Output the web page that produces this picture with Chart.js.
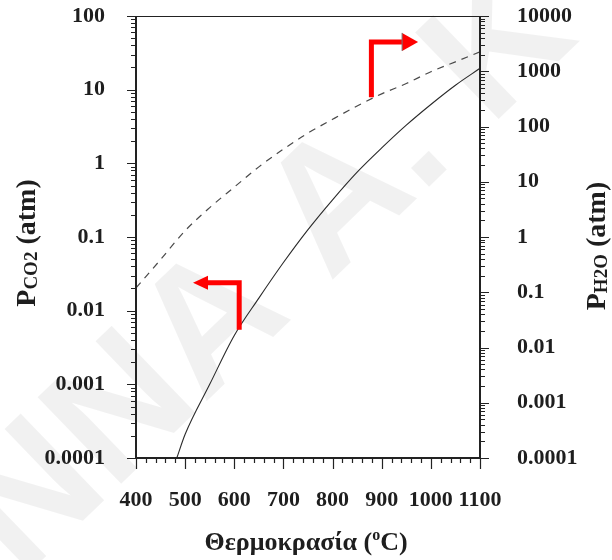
<!DOCTYPE html>
<html>
<head>
<meta charset="utf-8">
<script src="https://cdn.jsdelivr.net/npm/chart.js@4.4.1/dist/chart.umd.min.js"></script>
<style>
  html, body { margin: 0; padding: 0; background: #ffffff; }
  #wrap { width: 612px; height: 560px; position: relative; }
</style>
</head>
<body>
<div id="wrap"><canvas id="c" width="612" height="560"></canvas></div>
<script>
// ---- data ----
const co2Temps = [483, 500, 550, 600, 650, 700, 750, 800, 850, 900, 950, 1000, 1050, 1100];
const co2Pressure = [0.0001, 0.00021, 0.001, 0.0046, 0.0148, 0.045, 0.126, 0.32, 0.76, 1.62, 3.3, 6.3, 11.5, 19.5];

const h2oTemps = [400, 450, 500, 550, 600, 650, 700, 750, 800, 850, 900, 950, 1000, 1050, 1100];
const h2oPressure = [0.12, 0.39, 1.3, 3.4, 8, 18.6, 39, 76, 135, 235, 390, 600, 980, 1480, 2240];

const xTicks = [400, 500, 600, 700, 800, 900, 1000, 1100];
const leftTicks = [0.0001, 0.001, 0.01, 0.1, 1, 10, 100];
const leftTickLabels = ['0.0001', '0.001', '0.01', '0.1', '1', '10', '100'];
const rightTicks = [0.0001, 0.001, 0.01, 0.1, 1, 10, 100, 1000, 10000];
const rightTickLabels = ['0.0001', '0.001', '0.01', '0.1', '1', '10', '100', '1000', '10000'];

// arrows (data coordinates)
const leftArrow = { x: 610, yFrom: 0.0055, yTo: 0.024, xTip: 516 };   // left axis
const rightArrow = { x: 879, yFrom: 340, yTo: 3400, xTip: 974 };      // right axis

const xTitle = 'Θερμοκρασία (';
const watermark = 'ΝΝΑ Α. Κ';

const FONT = '"Liberation Serif", "Times New Roman", serif';
const TXT = '#1e1e1e';

const framePlugin = {
  id: 'frame',
  beforeDraw(chart) {
    const ctx = chart.ctx;
    ctx.save();
    ctx.fillStyle = '#ffffff';
    ctx.fillRect(0, 0, chart.width, chart.height);
    // watermark
    ctx.translate(268, 275);
    ctx.rotate(-44 * Math.PI / 180);
    ctx.font = 'bold 175px "Liberation Sans", Arial, sans-serif';
    ctx.fillStyle = 'rgba(0,0,0,0.055)';
    ctx.textAlign = 'center';
    ctx.textBaseline = 'middle';
    ctx.fillText(watermark, 0, 0);
    ctx.restore();
  },
  afterDraw(chart) {
    const ctx = chart.ctx;
    const { left, right, top, bottom } = chart.chartArea;
    const xs = chart.scales.x, ys = chart.scales.y, ys2 = chart.scales.y2;
    ctx.save();
    ctx.strokeStyle = '#222';
    // frame
    ctx.lineWidth = 2;
    ctx.beginPath();
    ctx.moveTo(left, top); ctx.lineTo(left, bottom); ctx.lineTo(right, bottom); ctx.lineTo(right, top);
    ctx.stroke();
    ctx.lineWidth = 1;
    ctx.beginPath();
    ctx.moveTo(left, top + 0.5); ctx.lineTo(right, top + 0.5);
    ctx.stroke();
    // x ticks
    ctx.lineWidth = 1.2;
    ctx.beginPath();
    for (let t = xs.min; t <= xs.max + 0.01; t += 20) {
      const px = Math.round(xs.getPixelForValue(t)) + 0.5;
      const len = (t % 100 === 0) ? 11 : 5;
      ctx.moveTo(px, bottom); ctx.lineTo(px, bottom + len);
    }
    ctx.stroke();
    // log ticks
    function logTicks(scale, x0, dir) {
      ctx.beginPath();
      const dmin = Math.round(Math.log10(scale.min)), dmax = Math.round(Math.log10(scale.max));
      for (let d = dmin; d <= dmax; d++) {
        for (let m = 1; m <= 9; m++) {
          const v = m * Math.pow(10, d);
          if (v > scale.max * 1.0001) continue;
          const py = Math.round(scale.getPixelForValue(v)) + 0.5;
          const len = m === 1 ? 9 : 5;
          ctx.moveTo(x0, py); ctx.lineTo(x0 + dir * len, py);
        }
      }
      ctx.stroke();
    }
    logTicks(ys, left, -1);
    logTicks(ys2, right, 1);

    // axis titles
    ctx.fillStyle = TXT;
    ctx.textBaseline = 'alphabetic';
    function rotatedTitle(cx, cy, sub) {
      ctx.save();
      ctx.translate(cx, cy);
      ctx.rotate(-Math.PI / 2);
      const fBig = 'bold 28px ' + FONT, fSub = 'bold 19px ' + FONT;
      ctx.font = fBig; const wP = ctx.measureText('P').width; const wA = ctx.measureText(' (atm)').width;
      ctx.font = fSub; const wS = ctx.measureText(sub).width;
      let x = -(wP + wS + wA) / 2;
      ctx.textAlign = 'left';
      ctx.font = fBig; ctx.fillText('P', x, 0); x += wP;
      ctx.font = fSub; ctx.fillText(sub, x, 2); x += wS;
      ctx.font = fBig; ctx.fillText(' (atm)', x, 0);
      ctx.restore();
    }
    rotatedTitle(35, 243, 'CO2');
    rotatedTitle(605, 246, 'H2O');

    // x title
    ctx.font = 'bold 26px ' + FONT;
    const w1 = ctx.measureText(xTitle).width;
    ctx.font = 'bold 16px ' + FONT;
    const wo = ctx.measureText('o').width;
    ctx.font = 'bold 26px ' + FONT;
    const w2 = ctx.measureText('C)').width;
    let xx = 306 - (w1 + wo + w2) / 2;
    ctx.textAlign = 'left';
    ctx.fillText(xTitle, xx, 550); xx += w1;
    ctx.font = 'bold 16px ' + FONT; ctx.fillText('o', xx, 540); xx += wo;
    ctx.font = 'bold 26px ' + FONT; ctx.fillText('C)', xx, 550);
    ctx.restore();
  },
  afterDatasetsDraw(chart) {
    const ctx = chart.ctx;
    const xs = chart.scales.x, ys = chart.scales.y, ys2 = chart.scales.y2;
    ctx.save();
    ctx.strokeStyle = '#ff0000';
    ctx.fillStyle = '#ff0000';
    ctx.lineWidth = 5;
    ctx.lineJoin = 'miter';
    ctx.lineCap = 'butt';
    // left arrow
    {
      const xv = xs.getPixelForValue(leftArrow.x);
      const y0 = ys.getPixelForValue(leftArrow.yFrom);
      const y1 = ys.getPixelForValue(leftArrow.yTo);
      const xt = xs.getPixelForValue(leftArrow.xTip);
      ctx.beginPath();
      ctx.moveTo(xv, y0); ctx.lineTo(xv, y1); ctx.lineTo(xt + 12, y1);
      ctx.stroke();
      ctx.beginPath();
      ctx.moveTo(xt, y1); ctx.lineTo(xt + 15, y1 - 7); ctx.lineTo(xt + 15, y1 + 7); ctx.closePath();
      ctx.fill();
    }
    // right arrow
    {
      const xv = xs.getPixelForValue(rightArrow.x);
      const y0 = ys2.getPixelForValue(rightArrow.yFrom);
      const y1 = ys2.getPixelForValue(rightArrow.yTo);
      const xt = xs.getPixelForValue(rightArrow.xTip);
      ctx.beginPath();
      ctx.moveTo(xv, y0); ctx.lineTo(xv, y1); ctx.lineTo(xt - 14, y1);
      ctx.stroke();
      ctx.beginPath();
      ctx.moveTo(xt, y1); ctx.lineTo(xt - 16, y1 - 9); ctx.lineTo(xt - 16, y1 + 9); ctx.closePath();
      ctx.fill();
      ctx.lineWidth = 1;
      ctx.strokeStyle = '#777';
      ctx.beginPath();
      ctx.moveTo(xt - 16, y1 - 9); ctx.lineTo(xt - 16, y1 + 9);
      ctx.stroke();
    }
    ctx.restore();
  }
};

const tickFont = { family: FONT, size: 22, weight: 'bold' };
function fixVPad(s, w) { s.width = w; s.paddingTop = 0; s.paddingBottom = 0; }

new Chart(document.getElementById('c'), {
  type: 'line',
  data: {
    datasets: [
      {
        label: 'PCO2',
        data: co2Temps.map((t, i) => ({ x: t, y: co2Pressure[i] })),
        yAxisID: 'y',
        borderColor: '#2a2a2a',
        borderWidth: 1.1,
        pointRadius: 0,
        cubicInterpolationMode: 'monotone',
        fill: false
      },
      {
        label: 'PH2O',
        data: h2oTemps.map((t, i) => ({ x: t, y: h2oPressure[i] })),
        yAxisID: 'y2',
        borderColor: '#4a4a4a',
        borderWidth: 1.2,
        borderDash: [7, 6],
        pointRadius: 0,
        cubicInterpolationMode: 'monotone',
        fill: false
      }
    ]
  },
  options: {
    responsive: false,
    animation: false,
    layout: { padding: { top: 16, left: 0, right: 0, bottom: 0 } },
    plugins: { legend: { display: false }, tooltip: { enabled: false }, title: { display: false } },
    scales: {
      x: {
        type: 'linear',
        min: 400, max: 1100,
        afterBuildTicks: s => { s.ticks = xTicks.map(v => ({ value: v })); },
        afterFit: s => { s.height = 102; s.paddingLeft = 0; s.paddingRight = 0; },
        grid: { display: false, drawTicks: false },
        border: { display: false },
        ticks: { font: tickFont, color: TXT, padding: 29, maxRotation: 0, autoSkip: false, callback: v => String(v) }
      },
      y: {
        type: 'logarithmic',
        position: 'left',
        min: 0.0001, max: 100,
        afterBuildTicks: s => { s.ticks = leftTicks.map(v => ({ value: v })); },
        afterFit: s => fixVPad(s, 136),
        grid: { display: false, drawTicks: false },
        border: { display: false },
        ticks: { font: tickFont, color: TXT, padding: 31, autoSkip: false,
          callback: (v) => leftTickLabels[leftTicks.indexOf(v)] }
      },
      y2: {
        type: 'logarithmic',
        position: 'right',
        min: 0.0001, max: 10000,
        afterBuildTicks: s => { s.ticks = rightTicks.map(v => ({ value: v })); },
        afterFit: s => fixVPad(s, 132),
        grid: { display: false, drawTicks: false },
        border: { display: false },
        ticks: { font: tickFont, color: TXT, padding: 37, autoSkip: false,
          callback: (v) => rightTickLabels[rightTicks.indexOf(v)] }
      }
    }
  },
  plugins: [framePlugin]
});
</script>
</body>
</html>
